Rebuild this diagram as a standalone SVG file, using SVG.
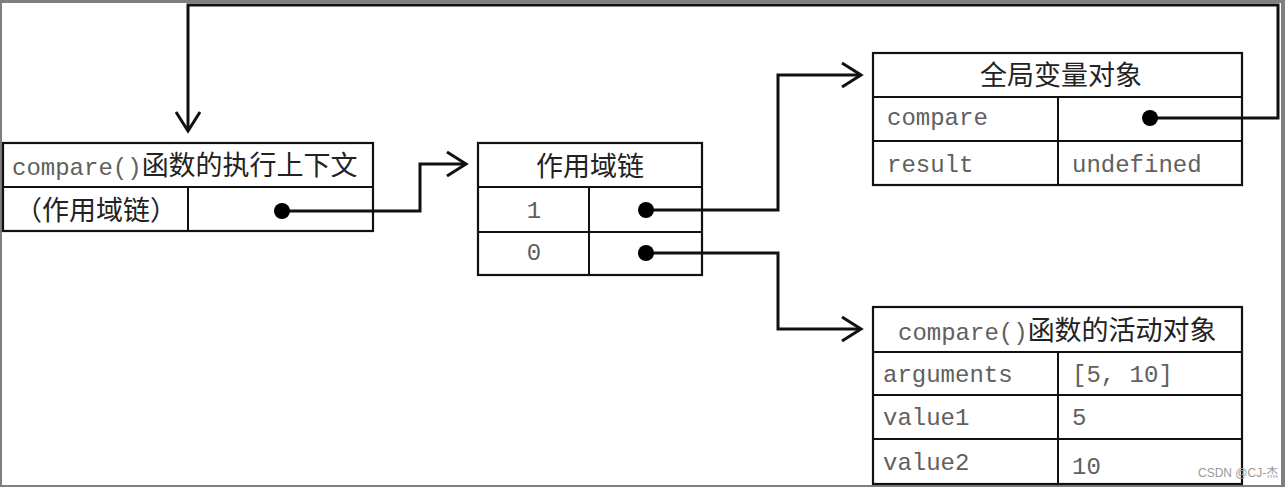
<svg xmlns="http://www.w3.org/2000/svg" width="1285" height="487" viewBox="0 0 1285 487">
<style>
.box{fill:#fff;stroke:#111;stroke-width:2.2}
.ln{fill:none;stroke:#111;stroke-width:2}
.con{fill:none;stroke:#111;stroke-width:3}
.dot{fill:#000}
.cjk{font-family:"Noto Sans CJK SC","Noto Sans",sans-serif;font-size:27px;fill:#222}
.mono{font-family:"Liberation Mono","DejaVu Sans Mono",monospace;font-size:24px;fill:#606060}
.mid{text-anchor:middle}
.wm{font-family:"Liberation Sans","Noto Sans CJK SC",sans-serif;font-size:12px;fill:#999}
</style>
<defs>
<marker id="chev" markerUnits="userSpaceOnUse" markerWidth="26" markerHeight="30" refX="21" refY="14" orient="auto" overflow="visible">
<path d="M2,2 L21,14 L2,26" fill="none" stroke="#111" stroke-width="3"/>
</marker>
</defs>
<rect x="0" y="0" width="1285" height="487" fill="#fff"/>
<g id="frame" fill="#7f7f7f">
<rect x="0" y="0" width="1285" height="3"/>
<rect x="0" y="0" width="2" height="487"/>
<rect x="0" y="485" width="1285" height="2"/>
<rect x="1281" y="0" width="4" height="487"/>
</g>
<g id="exec-context">
<rect class="box" x="3" y="143" width="370" height="88"/>
<line class="ln" x1="3" y1="187" x2="373" y2="187"/>
<line class="ln" x1="188" y1="187" x2="188" y2="231"/>
<text x="12" y="175"><tspan class="mono">compare()</tspan><tspan class="cjk">函数的执行上下文</tspan></text>
<text class="cjk mid" x="96" y="220">（作用域链）</text>
</g>
<g id="scope-chain">
<rect class="box" x="478" y="143" width="224" height="132"/>
<line class="ln" x1="478" y1="187" x2="702" y2="187"/>
<line class="ln" x1="478" y1="232" x2="702" y2="232"/>
<line class="ln" x1="589" y1="187" x2="589" y2="275"/>
<text class="cjk mid" x="590" y="176">作用域链</text>
<text class="mono mid" x="534" y="218">1</text>
<text class="mono mid" x="534" y="260">0</text>
</g>
<g id="global-object">
<rect class="box" x="873" y="53" width="369" height="132"/>
<line class="ln" x1="873" y1="97" x2="1242" y2="97"/>
<line class="ln" x1="873" y1="141" x2="1242" y2="141"/>
<line class="ln" x1="1058" y1="97" x2="1058" y2="185"/>
<text class="cjk mid" x="1061" y="85">全局变量对象</text>
<text class="mono" x="887" y="125">compare</text>
<text class="mono" x="887" y="172">result</text>
<text class="mono" x="1072" y="172">undefined</text>
</g>
<g id="activation-object">
<rect class="box" x="873" y="307" width="369" height="177"/>
<line class="ln" x1="873" y1="352" x2="1242" y2="352" stroke-width="3"/>
<line class="ln" x1="873" y1="395" x2="1242" y2="395"/>
<line class="ln" x1="873" y1="439" x2="1242" y2="439"/>
<line class="ln" x1="1058" y1="352" x2="1058" y2="484"/>
<text x="898" y="340"><tspan class="mono">compare()</tspan><tspan class="cjk">函数的活动对象</tspan></text>
<text class="mono" x="883" y="382">arguments</text>
<text class="mono" x="1072" y="382">[5, 10]</text>
<text class="mono" x="883" y="425">value1</text>
<text class="mono" x="1072" y="425">5</text>
<text class="mono" x="883" y="470">value2</text>
<text class="mono" x="1072" y="474">10</text>
</g>
<g id="connectors">
<polyline class="con" points="1150,118 1278,118 1278,5 188,5 188,131" marker-end="url(#chev)"/>
<polyline class="con" points="282,211 420,211 420,164 466,164" marker-end="url(#chev)"/>
<polyline class="con" points="646,210 778,210 778,75 861,75" marker-end="url(#chev)"/>
<polyline class="con" points="646,253 778,253 778,329 861,329" marker-end="url(#chev)"/>
<circle class="dot" cx="282" cy="211" r="8"/>
<circle class="dot" cx="646" cy="210" r="8"/>
<circle class="dot" cx="646" cy="253" r="8"/>
<circle class="dot" cx="1150" cy="118" r="8"/>
</g>
<text class="wm" x="1198" y="477">CSDN @CJ-杰</text>
</svg>
